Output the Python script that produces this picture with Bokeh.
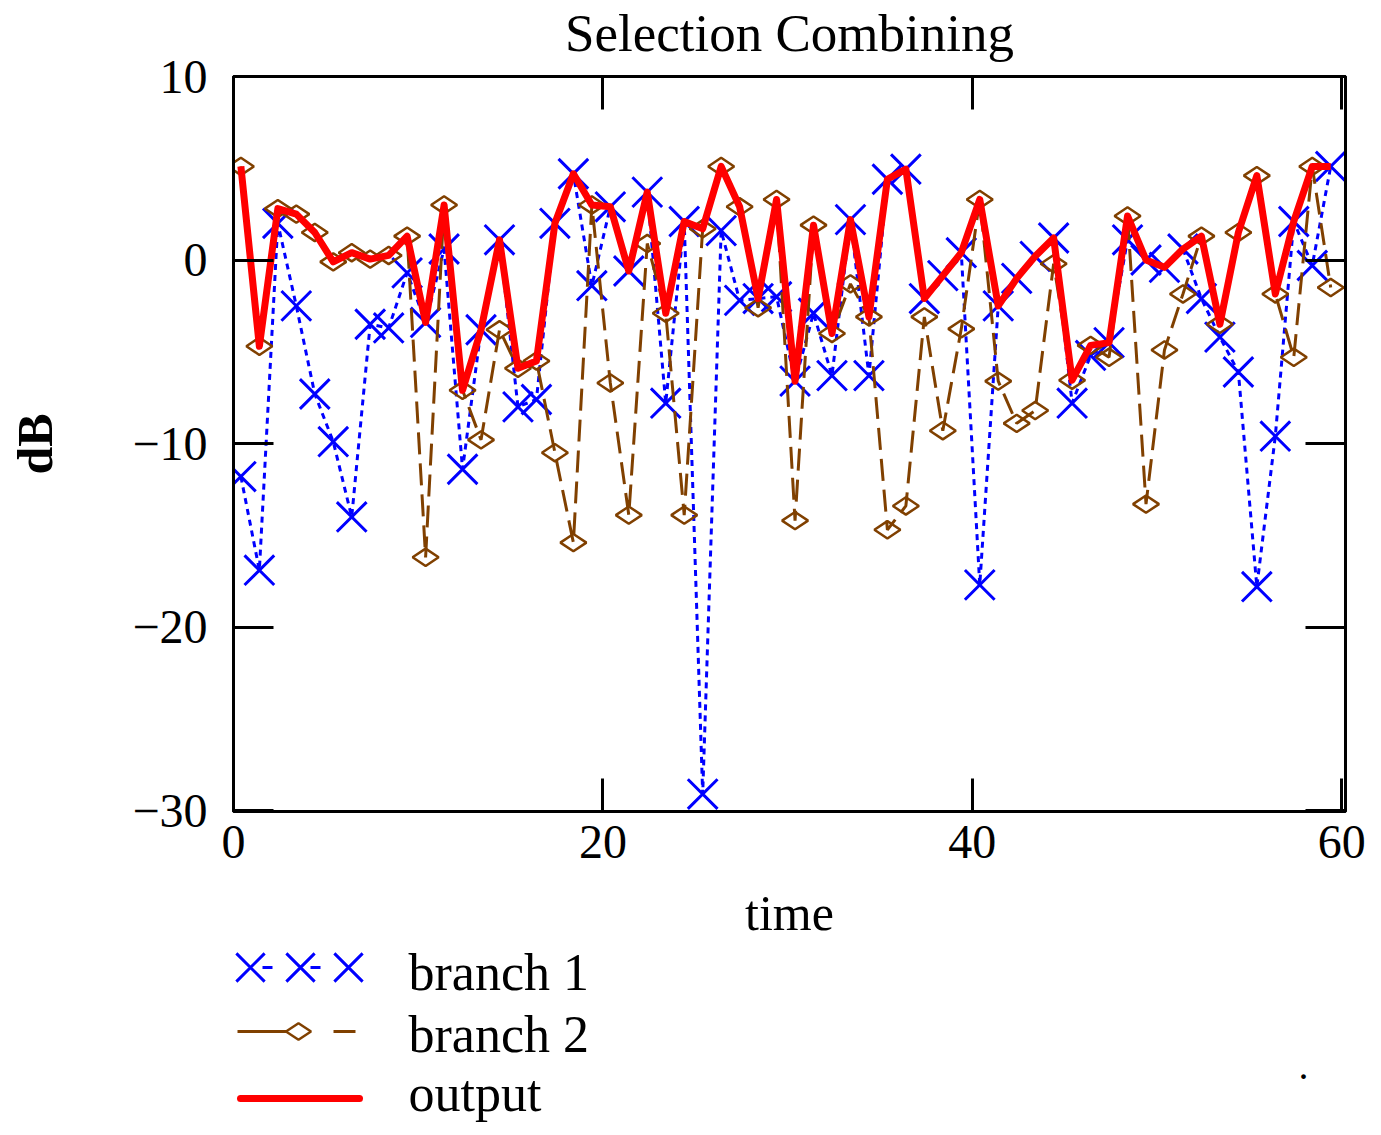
import numpy as np
from bokeh.plotting import figure
from bokeh.models import Range1d, LinearAxis, FixedTicker
from bokeh.layouts import column
from bokeh.embed import file_html
from bokeh.resources import INLINE
from bokeh.core.properties import value

# ---------------- data ----------------
time = [i + 0.4 for i in range(60)]
branch1 = [-11.8, -16.9, 2.0, -2.5, -7.3, -9.9, -14.0, -3.5, -3.7, -0.7,
           -3.4, 0.6, -11.4, -3.8, 1.1, -8.0, -7.6, 2.0, 4.7, -1.4,
           2.9, -0.6, 3.7, -7.8, 2.1, -29.1, 1.6, -2.2, -2.1, -2.0,
           -6.6, -2.9, -6.3, 2.2, -6.3, 4.4, 4.95, -2.1, -0.85, 0.4,
           -17.7, -2.5, -1.0, 0.2, 1.2, -7.8, -5.2, -4.5, 1.1, 0.0,
           -0.4, 0.6, -2.1, -4.2, -6.1, -17.8, -9.6, 2.1, -0.3, 5.1]
branch2 = [5.1, -4.7, 2.8, 2.5, 1.5, -0.1, 0.4, 0.05, 0.25, 1.3,
           -16.2, 3.0, -7.1, -9.8, -3.8, -5.9, -5.5, -10.5, -15.4, 3.0,
           -6.7, -13.9, 0.9, -2.9, -13.9, 1.7, 5.1, 2.9, -2.6, 3.3,
           -14.2, 1.9, -4.0, -1.3, -3.1, -14.7, -13.4, -3.1, -9.3, -3.75,
           3.3, -6.6, -8.9, -8.2, -0.2, -6.55, -4.65, -5.3, 2.4, -13.3,
           -4.9, -1.85, 1.3, -3.5, 1.5, 4.6, -1.85, -5.3, 5.1, -1.5]
output = [5.1, -4.7, 2.8, 2.5, 1.5, -0.1, 0.4, 0.05, 0.25, 1.3,
          -3.4, 3.0, -7.1, -3.8, 1.1, -5.9, -5.5, 2.0, 4.7, 3.0,
          2.9, -0.6, 3.7, -2.9, 2.1, 1.7, 5.1, 2.9, -2.1, 3.3,
          -6.6, 1.9, -4.0, 2.2, -3.1, 4.4, 4.95, -2.1, -0.85, 0.4,
          3.3, -2.5, -1.0, 0.2, 1.2, -6.55, -4.65, -4.5, 2.4, 0.0,
          -0.4, 0.6, 1.3, -3.5, 1.5, 4.6, -1.85, 2.1, 5.1, 5.1]
x_ticks = [0, 20, 40, 60]
y_ticks = [-30, -20, -10, 0, 10]
y_tick_labels = {-30: "\u221230", -20: "\u221220", -10: "\u221210", 0: "0", 10: "10"}
legend_labels = ["branch 1", "branch 2", "output"]
title_text = "Selection Combining"

FONT = "Liberation Serif"
BLUE = "#0000FF"
BROWN = "#804000"
RED = "#FF0000"

W = 1375
FRAME_L, FRAME_R = 233, 1345
H1 = 944           # main plot (frame top at page 75, bottom at 811)
H2 = 186           # legend strip

# ---------------- main figure ----------------
p = figure(width=W, height=H1, x_range=Range1d(0, 60.2), y_range=Range1d(-30.05, 10.0),
           output_backend="svg", toolbar_location=None,
           min_border_left=FRAME_L, min_border_right=W - FRAME_R,
           min_border_top=75, min_border_bottom=H1 - 811)
p.background_fill_color = "white"
p.border_fill_color = "white"
p.grid.visible = False
p.outline_line_color = "black"
p.outline_line_width = 3


def style_axis(ax, show_labels):
    ax.axis_line_width = 3
    ax.major_tick_in = 0
    ax.major_tick_out = 0
    ax.minor_tick_in = 0
    ax.minor_tick_out = 0
    ax.major_tick_line_width = 3
    ax.major_label_text_font = FONT
    ax.major_label_text_font_size = "48px"
    ax.major_label_text_color = "black"
    ax.axis_label_text_font = FONT
    ax.axis_label_text_font_size = "50px"
    ax.axis_label_text_font_style = "normal"
    ax.axis_label_text_color = "black"
    if not show_labels:
        ax.major_label_text_color = None
        ax.major_label_text_font_size = "0px"
        ax.major_label_standoff = 0


# bottom axis
xa = p.xaxis[0]
style_axis(xa, True)
xa.ticker = FixedTicker(ticks=x_ticks)
xa.major_tick_in = 33
xa.axis_label = "time"
xa.major_label_standoff = 14
xa.axis_label_standoff = 24

# left axis
ya = p.yaxis[0]
style_axis(ya, True)
ya.ticker = FixedTicker(ticks=y_ticks)
ya.major_label_overrides = y_tick_labels
ya.major_tick_in = 40
ya.axis_label = "dB"
ya.axis_label_text_font_style = "bold"
ya.major_label_standoff = 26
ya.axis_label_standoff = 66

# top axis: inward ticks, carries the chart title as its label
xt = LinearAxis(ticker=FixedTicker(ticks=x_ticks))
style_axis(xt, False)
xt.major_tick_in = 33
xt.axis_label = title_text
xt.axis_label_text_font_size = "53px"
xt.axis_label_standoff = 15
p.add_layout(xt, "above")

# right axis: inward ticks only
yr = LinearAxis(ticker=FixedTicker(ticks=y_ticks))
style_axis(yr, False)
yr.major_tick_in = 40
p.add_layout(yr, "right")

# data
p.line(time, branch1, line_color=BLUE, line_width=3, line_dash="6 5")
p.scatter(time, branch1, marker="x", size=42, line_color=BLUE, line_width=3)
p.line(time, branch2, line_color=BROWN, line_width=3, line_dash="22 9")
p.scatter(time, branch2, marker="diamond", size=26, angle=np.pi / 2,
          line_color=BROWN, fill_color=None, line_width=2.5)
p.line(time, output, line_color=RED, line_width=7, line_join="round")

# ---------------- legend strip (coordinates = page pixels) ----------------
leg = figure(width=W, height=H2, x_range=Range1d(FRAME_L, FRAME_R),
             y_range=Range1d(H1 + H2, H1),
             output_backend="svg", toolbar_location=None,
             min_border_left=FRAME_L, min_border_right=W - FRAME_R,
             min_border_top=0, min_border_bottom=0,
             x_axis_location=None, y_axis_location=None)
leg.grid.visible = False
leg.outline_line_color = None
leg.background_fill_color = "white"
leg.border_fill_color = "white"

# branch 1 sample
leg.line([262, 348], [967, 967], line_color=BLUE, line_width=3, line_dash="10 38")
leg.scatter([250, 300, 348], [967, 967, 967], marker="x", size=40, line_color=BLUE, line_width=3)
# branch 2 sample
leg.line([237, 287], [1031, 1031], line_color=BROWN, line_width=3)
leg.scatter([298], [1031], marker="diamond", size=25, angle=np.pi / 2,
            line_color=BROWN, fill_color=None, line_width=2.5)
leg.line([333, 355], [1031, 1031], line_color=BROWN, line_width=3)
# output sample
leg.line([240, 359], [1098, 1098], line_color=RED, line_width=7, line_cap="round")

leg.text(x=[408, 408, 408], y=[972, 1034, 1093], text=legend_labels,
         text_font=value(FONT), text_font_size="52px", text_baseline="alphabetic",
         text_align="left", text_color="black")
leg.text(x=[1303], y=[1065], text=["."], text_font=value(FONT), text_font_size="40px",
         text_baseline="alphabetic", text_align="center", text_color="black")

layout = column(p, leg, spacing=0)
open("out.html", "w").write(file_html(layout, INLINE))
